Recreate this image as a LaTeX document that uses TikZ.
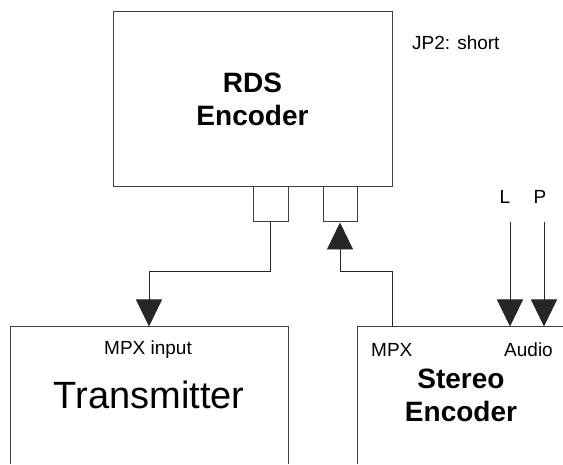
\documentclass[tikz,border=0pt]{standalone}
\usepackage{fontspec}
\setmainfont{Liberation Sans}
\usetikzlibrary{arrows.meta}
\begin{document}
\begin{tikzpicture}[x=1pt,y=1pt,
  box/.style={draw=black!75,line width=1pt,fill=white,inner sep=0pt},
  conn/.style={line width=0.9pt,draw=black!85},
  arr/.style={-{Triangle[width=26pt,length=27pt]}},
  lbl/.style={font=\fontsize{19}{21}\selectfont,inner sep=0pt},
  bigbold/.style={font=\fontsize{28}{33}\selectfont\bfseries,align=center,inner sep=0pt},
  bigtxt/.style={font=\fontsize{38}{42}\selectfont,inner sep=0pt}
]
\useasboundingbox (0,0) rectangle (563,464);
\clip (0,0) rectangle (563,464);
\fill[white] (0,0) rectangle (563,464);
% boxes
\node[box,minimum width=279pt,minimum height=175pt] (rds) at (252.5,364.5) {};
\node[bigbold] (rdst) at (rds.center) {RDS\\Encoder};
\node[box,minimum width=35pt,minimum height=35pt] (c1) at (270.5,259.5) {};
\node[box,minimum width=34pt,minimum height=35pt] (c2) at (340,259.5) {};
\node[box,minimum width=278pt,minimum height=160pt] (tx) at (149,57) {};
\node[box,minimum width=250pt,minimum height=160pt] (st) at (482,57) {};
% texts
\node[lbl,anchor=west] (jp) at (412,421) {JP2: short};
\node[lbl] (mpxin) at (148,114) {MPX input};
\node[bigtxt] (txt) at (149,69) {Transmitter};
\node[lbl,anchor=west] (mpx) at (371,114) {MPX};
\node[lbl,anchor=east] (audio) at (553,114) {Audio};
\node[bigbold] (stt) at (461,68.5) {Stereo\\Encoder};
\node[lbl] (lL) at (505,267) {L};
\node[lbl] (lP) at (540,267) {P};
% connectors
\coordinate (mpxout) at (392,137);
\coordinate (Lin) at (510,242);
\coordinate (Pin) at (544,242);
\draw[conn,arr] (c1.south) -- ++(0,-49) -| (tx.north);
\draw[conn,arr] (mpxout) -- ++(0,56) -| (c2.south);
\draw[conn,arr] (Lin) -- (Lin |- st.north);
\draw[conn,arr] (Pin) -- (Pin |- st.north);
\end{tikzpicture}
\end{document}
